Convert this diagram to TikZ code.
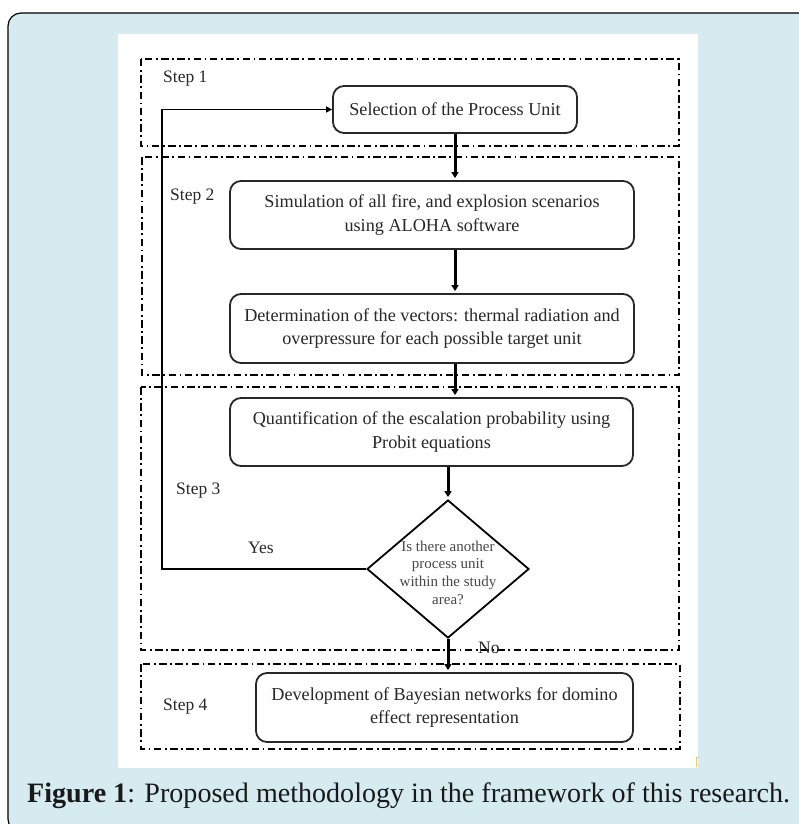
\documentclass[tikz,border=0pt]{standalone}
\usepackage{fontspec}
\setmainfont{Liberation Serif}
\usetikzlibrary{arrows.meta,shapes.geometric,calc}
\definecolor{panel}{RGB}{214,235,240}
\definecolor{ink}{RGB}{40,40,40}
\definecolor{markcol}{RGB}{245,200,90}
\tikzset{
 stepframe/.style={draw=black, line width=1.5pt, dash pattern=on 7.5pt off 3.5pt on 1.8pt off 3.5pt},
 procbox/.style={draw=ink, line width=1.8pt, rounded corners=11pt, align=center,
   font=\fontsize{18.2}{23.5}\selectfont, text=ink, inner sep=0pt},
 steplabel/.style={font=\fontsize{17.5}{21}\selectfont, text=ink, inner sep=0pt, anchor=west},
 decision/.style={diamond, draw=black, line width=1.8pt, minimum width=162pt, minimum height=138pt, inner sep=0pt},
 decisiontext/.style={font=\fontsize{15}{17.6}\selectfont, text=ink!85, align=center, inner sep=0pt},
 flowarrow/.style={draw=black, line width=3pt, -{Triangle[width=7pt,length=6pt]}, shorten >=2pt},
 looparrow/.style={draw=black, line width=1.8pt, -{Triangle[width=6pt,length=6pt]}},
}
\begin{document}
\begin{tikzpicture}[x=1pt,y=-1pt]
\useasboundingbox (0,0) rectangle (799,824);
\clip (0,0) rectangle (799,824);
% panel
\draw[fill=panel, line width=1.2pt, rounded corners=13pt] (8,13) rectangle (840,832);
\fill[white] (118,34) rectangle (698,768);
\draw[markcol, line width=1pt] (696,767) -- (696,757.5) -- (699,757.5);

% step frames
\draw[stepframe] (141,59) rectangle (679,146);
\draw[stepframe] (142,157) rectangle (679,375);
\draw[stepframe] (141,387) rectangle (679,650);
\draw[stepframe] (141,664) rectangle (680,749);

% step labels
\node[steplabel] (s1) at (163,79) {Step 1};
\node[steplabel] (s2) at (170,197) {Step 2};
\node[steplabel] (s3) at (176,491) {Step 3};
\node[steplabel] (s4) at (163,707) {Step 4};

% process boxes
\node[procbox, minimum width=244pt, minimum height=47pt] (sel) at (455,109.5) {Selection of the Process Unit};
\node[procbox, minimum width=404pt, minimum height=68pt] (sim) at (432,215) {Simulation of all fire, and explosion scenarios\\using ALOHA software};
\node[procbox, minimum width=404pt, minimum height=69pt] (det) at (432,328.5) {Determination of the vectors: thermal radiation and\\overpressure for each possible target unit};
\node[procbox, minimum width=403pt, minimum height=68pt] (quant) at (431.5,432) {Quantification of the escalation probability using\\Probit equations};
\node[decision] (dia) at (448,569) {};
\node[decisiontext] (diatext) at (448,572.5) {Is there another\\process unit\\within the study\\area?};
\node[procbox, minimum width=377pt, minimum height=69pt] (bay) at (444.5,707.5) {Development of Bayesian networks for domino\\effect representation};

% labels
\node[steplabel] (yes) at (248,548) {Yes};
\node[steplabel] (no) at (478,648) {No};

% connectors
\draw[flowarrow] (sel.south) -- (sel.south |- sim.north);
\draw[flowarrow] (sel.south |- sim.south) -- (sel.south |- det.north);
\draw[flowarrow] (sel.south |- det.south) -- (sel.south |- quant.north);
\draw[flowarrow] (dia.north |- quant.south) -- (dia.north);
\draw[flowarrow] (dia.south) -- (dia.south |- bay.north);
\coordinate (loopcorner) at (162,569);
\draw[looparrow] (dia.west) -- (loopcorner) |- (sel.west);

% caption
\node[anchor=base west, inner sep=0pt, text=black!90] (cap) at (27,802)
  {\resizebox{763pt}{!}{\fontsize{28}{30}\selectfont\textbf{Figure 1}: Proposed methodology in the framework of this research.}};
\end{tikzpicture}
\end{document}
